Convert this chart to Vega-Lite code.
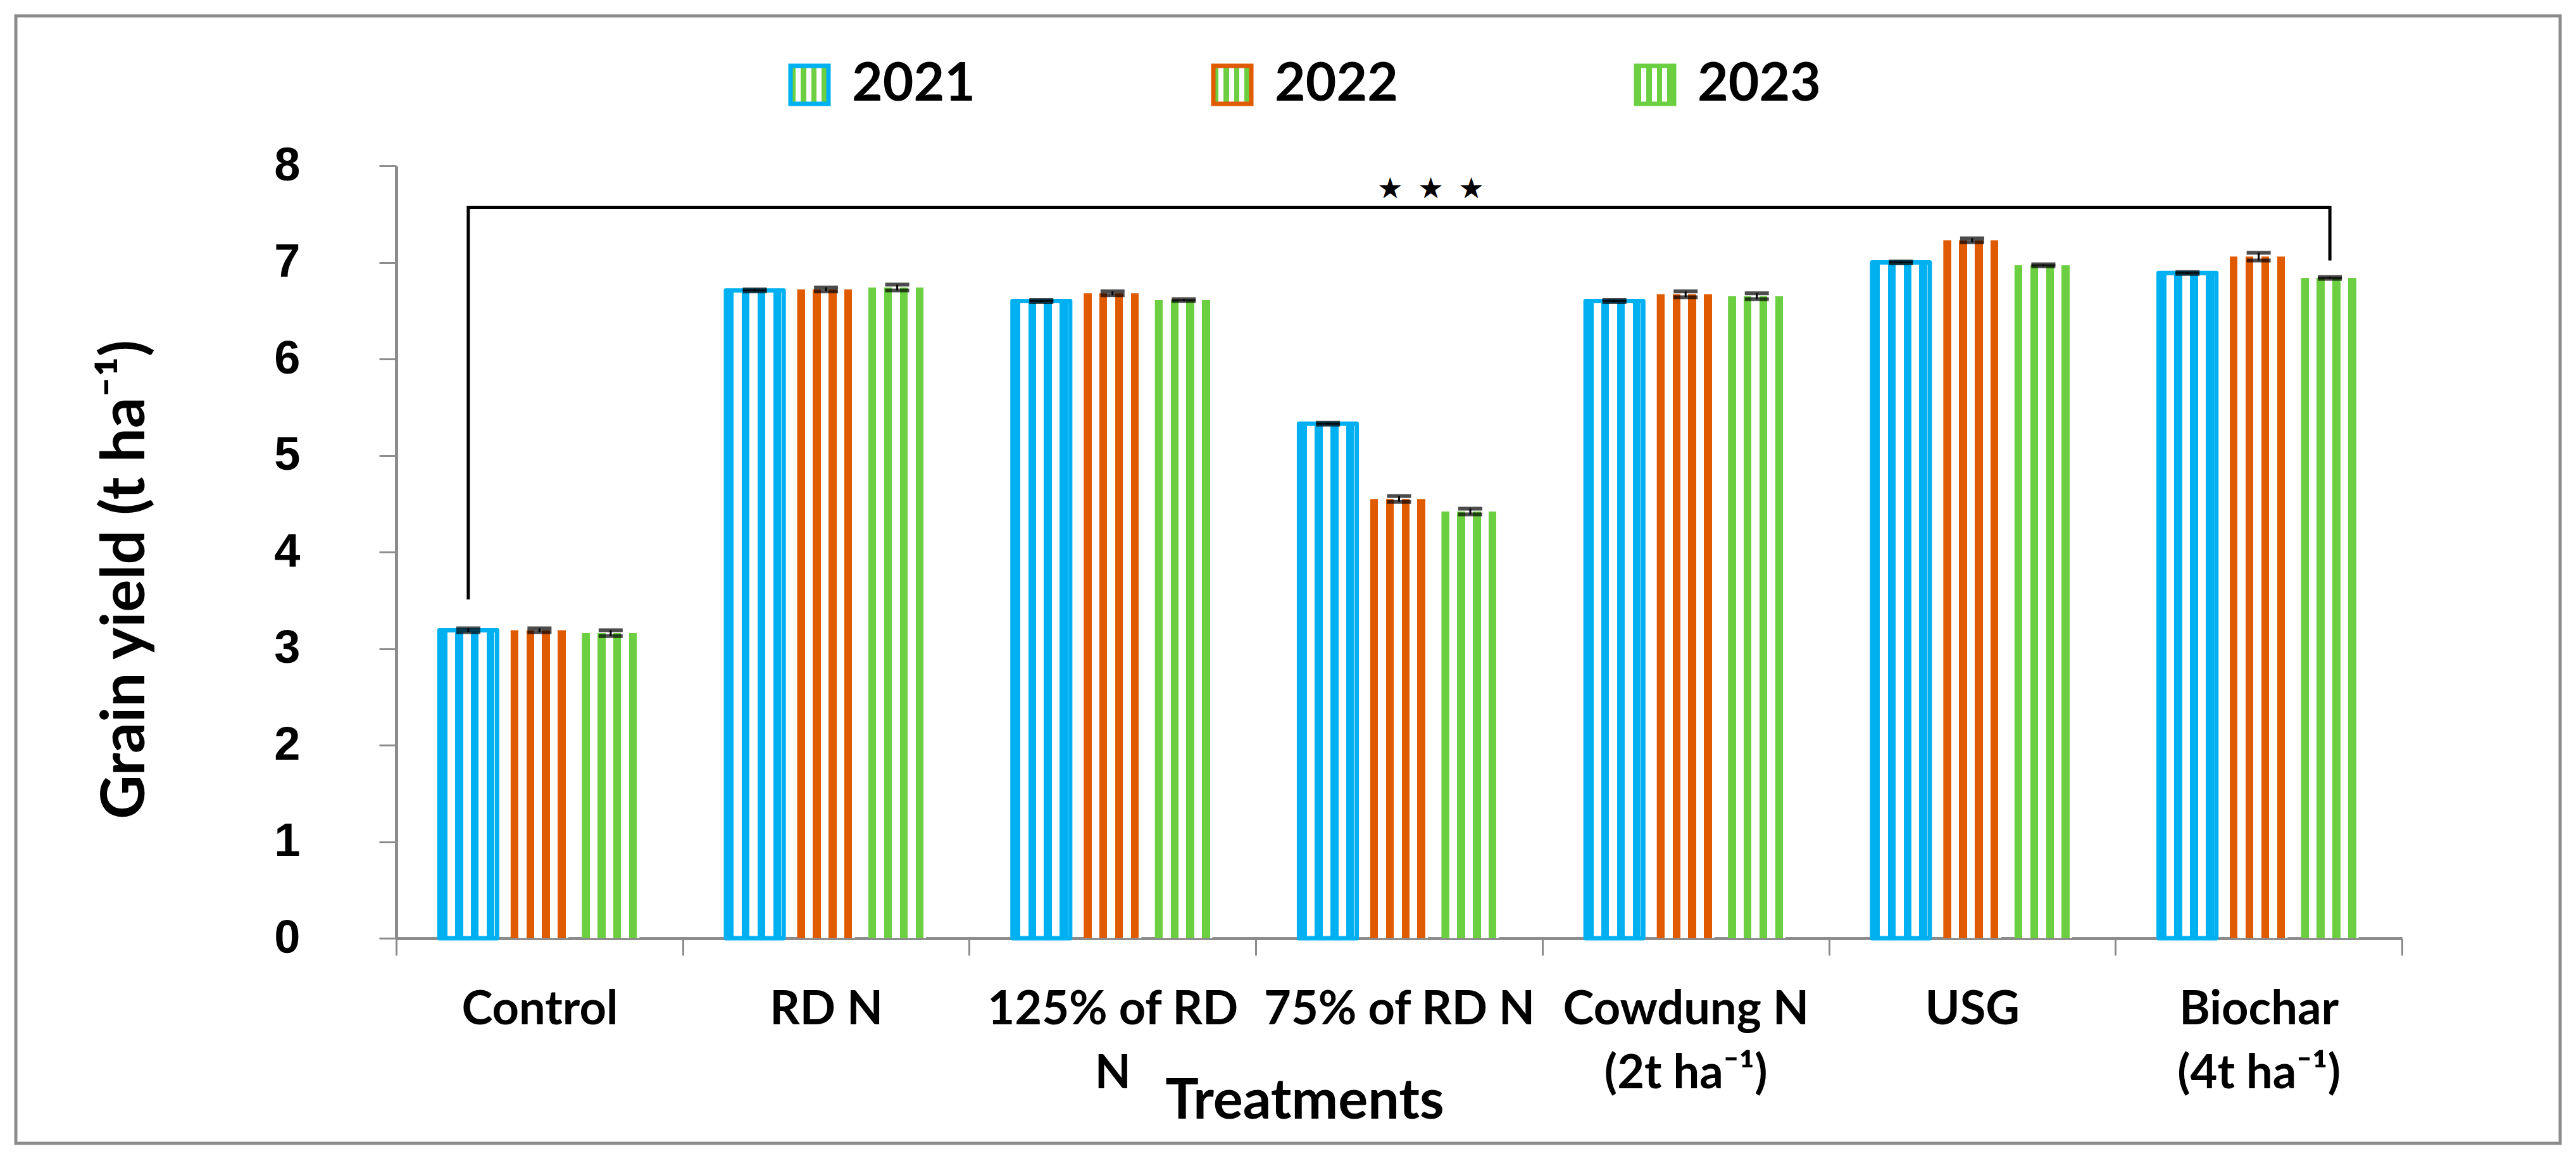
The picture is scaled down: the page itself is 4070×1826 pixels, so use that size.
{
  "$schema": "https://vega.github.io/schema/vega-lite/v6.json",
  "width": 4020,
  "height": 1781,
  "autosize": {"type": "none"},
  "padding": {"left": 25, "top": 25, "right": 25, "bottom": 20},
  "background": "#ffffff",
  "config": {"view": {"stroke": "#8c8c8c", "strokeWidth": 5}, "font": "Lato"},
  "datasets": {
    "yield": [
      {"treatment": "Control", "year": "2021", "yield": 3.19, "lo": 3.17, "hi": 3.21},
      {"treatment": "Control", "year": "2022", "yield": 3.19, "lo": 3.17, "hi": 3.21},
      {"treatment": "Control", "year": "2023", "yield": 3.16, "lo": 3.13, "hi": 3.19},
      {"treatment": "RD N", "year": "2021", "yield": 6.71, "lo": 6.70, "hi": 6.72},
      {"treatment": "RD N", "year": "2022", "yield": 6.72, "lo": 6.70, "hi": 6.74},
      {"treatment": "RD N", "year": "2023", "yield": 6.74, "lo": 6.71, "hi": 6.77},
      {"treatment": "125% of RD N", "year": "2021", "yield": 6.60, "lo": 6.59, "hi": 6.61},
      {"treatment": "125% of RD N", "year": "2022", "yield": 6.68, "lo": 6.66, "hi": 6.70},
      {"treatment": "125% of RD N", "year": "2023", "yield": 6.61, "lo": 6.60, "hi": 6.62},
      {"treatment": "75% of RD N", "year": "2021", "yield": 5.33, "lo": 5.32, "hi": 5.34},
      {"treatment": "75% of RD N", "year": "2022", "yield": 4.55, "lo": 4.52, "hi": 4.58},
      {"treatment": "75% of RD N", "year": "2023", "yield": 4.42, "lo": 4.39, "hi": 4.45},
      {"treatment": "Cowdung N (2t ha⁻¹)", "year": "2021", "yield": 6.60, "lo": 6.59, "hi": 6.61},
      {"treatment": "Cowdung N (2t ha⁻¹)", "year": "2022", "yield": 6.67, "lo": 6.64, "hi": 6.70},
      {"treatment": "Cowdung N (2t ha⁻¹)", "year": "2023", "yield": 6.65, "lo": 6.62, "hi": 6.68},
      {"treatment": "USG", "year": "2021", "yield": 7.00, "lo": 6.99, "hi": 7.01},
      {"treatment": "USG", "year": "2022", "yield": 7.23, "lo": 7.21, "hi": 7.25},
      {"treatment": "USG", "year": "2023", "yield": 6.97, "lo": 6.96, "hi": 6.98},
      {"treatment": "Biochar (4t ha⁻¹)", "year": "2021", "yield": 6.89, "lo": 6.88, "hi": 6.90},
      {"treatment": "Biochar (4t ha⁻¹)", "year": "2022", "yield": 7.06, "lo": 7.02, "hi": 7.10},
      {"treatment": "Biochar (4t ha⁻¹)", "year": "2023", "yield": 6.84, "lo": 6.83, "hi": 6.85}
    ],
    "bracket": [
      {"treatment": "Control", "year": "2021", "v": 3.51, "ord": 1},
      {"treatment": "Control", "year": "2021", "v": 7.57, "ord": 2},
      {"treatment": "Biochar (4t ha⁻¹)", "year": "2023", "v": 7.57, "ord": 3},
      {"treatment": "Biochar (4t ha⁻¹)", "year": "2023", "v": 7.02, "ord": 4}
    ],
    "stars": [
      {"treatment": "75% of RD N", "year": "2022", "v": 7.757, "label": "★\u2002★\u2002★"}
    ]
  },
  "encoding": {
    "x": {
      "field": "treatment",
      "type": "nominal",
      "sort": ["Control", "RD N", "125% of RD N", "75% of RD N", "Cowdung N (2t ha⁻¹)", "USG", "Biochar (4t ha⁻¹)"],
      "scale": {"range": [601, 3770], "paddingInner": 0, "paddingOuter": 0},
      "axis": {
        "title": "Treatments",
        "offset": -324,
        "tickBand": "extent",
        "domainColor": "#8c8c8c",
        "domainWidth": 5,
        "tickColor": "#8c8c8c",
        "tickWidth": 3,
        "tickSize": 27,
        "labelAngle": 0,
        "labelFont": "Lato",
        "labelFontWeight": "bold",
        "labelFontSize": 74,
        "labelColor": "#000000",
        "labelPadding": 50,
        "labelLineHeight": 101,
        "labelLimit": 2000,
        "labelOverlap": false,
        "labelExpr": "datum.value === '125% of RD N' ? ['125% of RD', 'N'] : datum.value === 'Cowdung N (2t ha⁻¹)' ? ['Cowdung N', '(2t ha⁻¹)'] : datum.value === 'Biochar (4t ha⁻¹)' ? ['Biochar', '(4t ha⁻¹)'] : datum.value",
        "titleFont": "Lato",
        "titleFontWeight": "bold",
        "titleFontSize": 88,
        "titleColor": "#000000",
        "titleX": 2036,
        "titleY": 284,
        "titleAlign": "center",
        "titleBaseline": "alphabetic",
        "titleLimit": 3000
      }
    },
    "xOffset": {
      "field": "year",
      "type": "nominal",
      "sort": ["2021", "2022", "2023"],
      "scale": {"paddingInner": 0.19, "paddingOuter": 0.607}
    }
  },
  "layer": [
    {
      "data": {"name": "yield"},
      "mark": {"type": "bar", "strokeJoin": "round"},
      "encoding": {
        "y": {
          "field": "yield",
          "type": "quantitative",
          "title": "Grain yield (t ha⁻¹)",
          "scale": {"domain": [0, 8], "range": [1457, 237], "nice": false, "zero": true},
          "axis": {
            "offset": -601,
            "values": [0, 1, 2, 3, 4, 5, 6, 7, 8],
            "format": "d",
            "grid": false,
            "domainColor": "#8c8c8c",
            "domainWidth": 5,
            "tickColor": "#8c8c8c",
            "tickWidth": 3,
            "tickSize": 27,
            "labelFont": "Liberation Sans",
            "labelFontWeight": "bold",
            "labelFontSize": 74,
            "labelColor": "#000000",
            "labelPadding": 125,
            "labelFlush": false,
            "labelOverlap": false,
            "titleFont": "Lato",
            "titleFontWeight": "bold",
            "titleFontSize": 96,
            "titleColor": "#000000",
            "titleX": -399,
            "titleY": 890,
            "titleAngle": -90,
            "titleAlign": "center",
            "titleBaseline": "alphabetic",
            "titleLimit": 3000
          }
        },
        "fill": {
          "condition": [
            {"test": "datum.year === '2021'", "value": {"gradient": "linear", "x1": 0, "y1": 0, "x2": 1, "y2": 0, "stops": [
              {"offset": 0, "color": "#00B0F0"}, {"offset": 0.136, "color": "#00B0F0"},
              {"offset": 0.136, "color": "#ffffff"}, {"offset": 0.273, "color": "#ffffff"},
              {"offset": 0.273, "color": "#00B0F0"}, {"offset": 0.409, "color": "#00B0F0"},
              {"offset": 0.409, "color": "#ffffff"}, {"offset": 0.545, "color": "#ffffff"},
              {"offset": 0.545, "color": "#00B0F0"}, {"offset": 0.682, "color": "#00B0F0"},
              {"offset": 0.682, "color": "#ffffff"}, {"offset": 0.818, "color": "#ffffff"},
              {"offset": 0.818, "color": "#00B0F0"}, {"offset": 0.954, "color": "#00B0F0"},
              {"offset": 0.954, "color": "#ffffff"}, {"offset": 1, "color": "#ffffff"}]}},
            {"test": "datum.year === '2022'", "value": {"gradient": "linear", "x1": 0, "y1": 0, "x2": 1, "y2": 0, "stops": [
              {"offset": 0, "color": "#E05A00"}, {"offset": 0.136, "color": "#E05A00"},
              {"offset": 0.136, "color": "#ffffff"}, {"offset": 0.273, "color": "#ffffff"},
              {"offset": 0.273, "color": "#E05A00"}, {"offset": 0.409, "color": "#E05A00"},
              {"offset": 0.409, "color": "#ffffff"}, {"offset": 0.545, "color": "#ffffff"},
              {"offset": 0.545, "color": "#E05A00"}, {"offset": 0.682, "color": "#E05A00"},
              {"offset": 0.682, "color": "#ffffff"}, {"offset": 0.818, "color": "#ffffff"},
              {"offset": 0.818, "color": "#E05A00"}, {"offset": 0.954, "color": "#E05A00"},
              {"offset": 0.954, "color": "#ffffff"}, {"offset": 1, "color": "#ffffff"}]}}
          ],
          "value": {"gradient": "linear", "x1": 0, "y1": 0, "x2": 1, "y2": 0, "stops": [
            {"offset": 0, "color": "#6CCF42"}, {"offset": 0.136, "color": "#6CCF42"},
            {"offset": 0.136, "color": "#ffffff"}, {"offset": 0.273, "color": "#ffffff"},
            {"offset": 0.273, "color": "#6CCF42"}, {"offset": 0.409, "color": "#6CCF42"},
            {"offset": 0.409, "color": "#ffffff"}, {"offset": 0.545, "color": "#ffffff"},
            {"offset": 0.545, "color": "#6CCF42"}, {"offset": 0.682, "color": "#6CCF42"},
            {"offset": 0.682, "color": "#ffffff"}, {"offset": 0.818, "color": "#ffffff"},
            {"offset": 0.818, "color": "#6CCF42"}, {"offset": 0.954, "color": "#6CCF42"},
            {"offset": 0.954, "color": "#ffffff"}, {"offset": 1, "color": "#ffffff"}]}
        },
        "stroke": {
          "field": "year",
          "type": "nominal",
          "scale": {"domain": ["2021", "2022", "2023"], "range": ["#00B0F0", "#E05A00", "#6CCF42"]},
          "legend": {
            "orient": "none",
            "legendX": 1212,
            "legendY": 67,
            "direction": "horizontal",
            "title": null,
            "padding": 0,
            "symbolType": "square",
            "symbolSize": 3600,
            "symbolStrokeWidth": 7,
            "labelFont": "Lato",
            "labelFontWeight": "bold",
            "labelFontSize": 84,
            "labelColor": "#000000",
            "labelOffset": 25,
            "labelLimit": 1000,
            "columnPadding": 362,
            "encode": {
              "symbols": {
                "update": {
                  "fill": {"signal": "datum.value === '2021' ? {gradient:'linear',x1:0,y1:0,x2:1,y2:0,stops:[{offset:0,color:'#00B0F0'},{offset:0.2,color:'#00B0F0'},{offset:0.2,color:'#ffffff'},{offset:0.4,color:'#ffffff'},{offset:0.4,color:'#00B0F0'},{offset:0.6,color:'#00B0F0'},{offset:0.6,color:'#ffffff'},{offset:0.8,color:'#ffffff'},{offset:0.8,color:'#00B0F0'},{offset:1,color:'#00B0F0'}]} : datum.value === '2022' ? {gradient:'linear',x1:0,y1:0,x2:1,y2:0,stops:[{offset:0,color:'#E05A00'},{offset:0.2,color:'#E05A00'},{offset:0.2,color:'#ffffff'},{offset:0.4,color:'#ffffff'},{offset:0.4,color:'#E05A00'},{offset:0.6,color:'#E05A00'},{offset:0.6,color:'#ffffff'},{offset:0.8,color:'#ffffff'},{offset:0.8,color:'#E05A00'},{offset:1,color:'#E05A00'}]} : {gradient:'linear',x1:0,y1:0,x2:1,y2:0,stops:[{offset:0,color:'#6CCF42'},{offset:0.2,color:'#6CCF42'},{offset:0.2,color:'#ffffff'},{offset:0.4,color:'#ffffff'},{offset:0.4,color:'#6CCF42'},{offset:0.6,color:'#6CCF42'},{offset:0.6,color:'#ffffff'},{offset:0.8,color:'#ffffff'},{offset:0.8,color:'#6CCF42'},{offset:1,color:'#6CCF42'}]}"},
                  "strokeWidth": {"signal": "datum.value === '2021' ? 7 : 0"}
                }
              }
            }
          }
        },
        "strokeWidth": {"condition": {"test": "datum.year === '2021'", "value": 7}, "value": 0}
      }
    },
    {
      "data": {"name": "yield"},
      "mark": {"type": "rule", "color": "#000000", "strokeWidth": 3},
      "encoding": {
        "y": {"field": "lo", "type": "quantitative", "title": "Grain yield (t ha⁻¹)"},
        "y2": {"field": "hi"}
      }
    },
    {
      "data": {"name": "yield"},
      "mark": {"type": "tick", "color": "#000000", "thickness": 6, "size": 38, "orient": "horizontal"},
      "encoding": {
        "y": {"field": "lo", "type": "quantitative", "title": "Grain yield (t ha⁻¹)"}
      }
    },
    {
      "data": {"name": "yield"},
      "mark": {"type": "tick", "color": "#000000", "thickness": 6, "size": 38, "orient": "horizontal"},
      "encoding": {
        "y": {"field": "hi", "type": "quantitative", "title": "Grain yield (t ha⁻¹)"}
      }
    },
    {
      "data": {"name": "bracket"},
      "mark": {"type": "line", "color": "#000000", "strokeWidth": 5, "strokeJoin": "miter"},
      "encoding": {
        "y": {"field": "v", "type": "quantitative", "title": "Grain yield (t ha⁻¹)"},
        "order": {"field": "ord", "type": "quantitative"}
      }
    },
    {
      "data": {"name": "stars"},
      "mark": {"type": "text", "font": "DejaVu Sans", "fontSize": 46, "color": "#000000", "baseline": "middle", "align": "center", "dx": 50},
      "encoding": {
        "y": {"field": "v", "type": "quantitative", "title": "Grain yield (t ha⁻¹)"},
        "text": {"field": "label", "type": "nominal"}
      }
    }
  ]
}
